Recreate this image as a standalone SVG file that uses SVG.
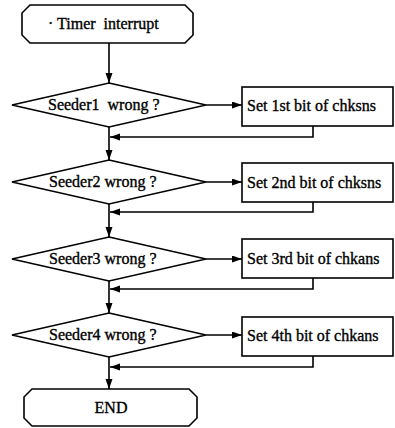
<svg xmlns="http://www.w3.org/2000/svg" width="395" height="428" viewBox="0 0 395 428">
<style>
.s{fill:#fff;stroke:#000;stroke-width:1.6}
.c{fill:none;stroke:#000;stroke-width:1.6}
.t{font-family:"Liberation Serif","Times New Roman","DejaVu Serif",serif;font-size:16px;font-weight:normal;fill:#000;stroke:#000;stroke-width:0.35;white-space:pre}
</style>
<defs>
<marker id="ah" markerUnits="userSpaceOnUse" markerWidth="11" markerHeight="8" refX="10" refY="3.5" orient="auto">
<path d="M0,0 L10,3.5 L0,7 Z" fill="#000"/>
</marker>
</defs>
<rect width="395" height="428" fill="#fff"/>
<g id="connectors">
<path class="c" d="M109,43 V83" marker-end="url(#ah)"/>
<path class="c" d="M206,105 H242" marker-end="url(#ah)"/>
<path class="c" d="M313,126 V137 H110" marker-end="url(#ah)"/>
<path class="c" d="M109,127 V160" marker-end="url(#ah)"/>
<path class="c" d="M206,182 H242" marker-end="url(#ah)"/>
<path class="c" d="M313,202 V212 H110" marker-end="url(#ah)"/>
<path class="c" d="M109,204 V237" marker-end="url(#ah)"/>
<path class="c" d="M206,259 H242" marker-end="url(#ah)"/>
<path class="c" d="M313,278 V289 H110" marker-end="url(#ah)"/>
<path class="c" d="M109,281 V313" marker-end="url(#ah)"/>
<path class="c" d="M206,335 H242" marker-end="url(#ah)"/>
<path class="c" d="M313,356 V367 H110" marker-end="url(#ah)"/>
<path class="c" d="M109,357 V389" marker-end="url(#ah)"/>
</g>
<g id="start">
<path class="s" d="M30,5 H185 L193,13 V35 L185,43 H30 L22,35 V13 Z"/>
<text class="t" x="48" y="29" xml:space="preserve">· Timer  interrupt</text>
</g>
<g id="d1">
<polygon class="s" points="109,83 206,105 109,127 12,105"/>
<text class="t" x="48" y="110" xml:space="preserve">Seeder1  wrong ?</text>
</g>
<g id="b1">
<rect class="s" x="242" y="87" width="151" height="39"/>
<text class="t" x="247" y="111">Set 1st bit of chksns</text>
</g>
<g id="d2">
<polygon class="s" points="109,160 206,182 109,204 12,182"/>
<text class="t" x="49" y="187">Seeder2 wrong ?</text>
</g>
<g id="b2">
<rect class="s" x="242" y="163" width="151" height="39"/>
<text class="t" x="247" y="188">Set 2nd bit of chksns</text>
</g>
<g id="d3">
<polygon class="s" points="109,237 206,259 109,281 12,259"/>
<text class="t" x="49" y="264">Seeder3 wrong ?</text>
</g>
<g id="b3">
<rect class="s" x="242" y="239" width="151" height="39"/>
<text class="t" x="247" y="264">Set 3rd bit of chkans</text>
</g>
<g id="d4">
<polygon class="s" points="109,313 206,335 109,357 12,335"/>
<text class="t" x="49" y="340">Seeder4 wrong ?</text>
</g>
<g id="b4">
<rect class="s" x="242" y="317" width="151" height="39"/>
<text class="t" x="247" y="341">Set 4th bit of chkans</text>
</g>
<g id="end">
<path class="s" d="M32,389 H189 L197,397 V418 L189,426 H32 L24,418 V397 Z"/>
<text class="t" x="111" y="413" text-anchor="middle">END</text>
</g>
</svg>
